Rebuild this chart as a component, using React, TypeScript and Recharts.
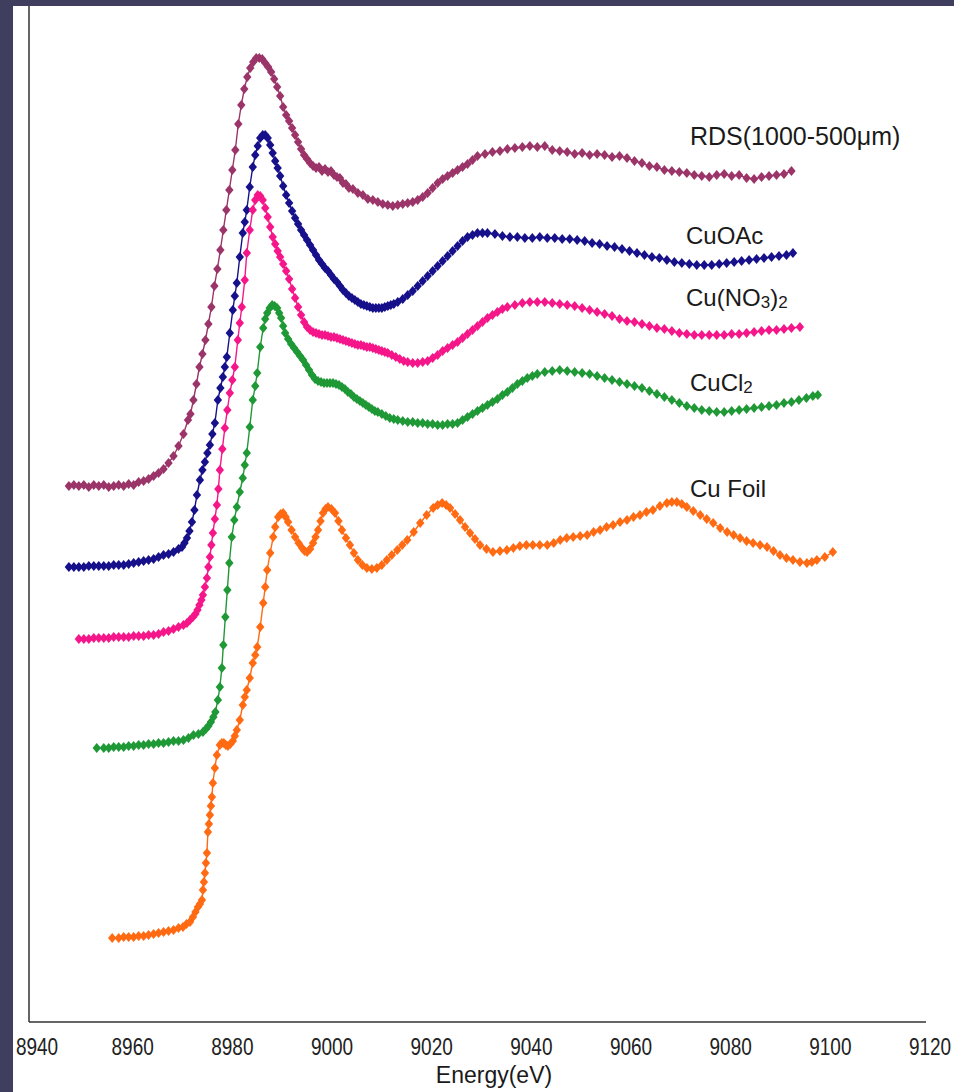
import React from 'react';
import { LineChart, Line, XAxis, YAxis } from 'recharts';

// energy (eV) vs normalised absorption, each spectrum offset vertically
const rdsData: [number, number][] = [
  [8948, 5.36], [8949, 5.37], [8950, 5.36], [8951, 5.37], [8952, 5.35], [8953, 5.37], [8954, 5.36], [8955, 5.37],
  [8956, 5.35], [8957, 5.36], [8958, 5.37], [8959, 5.36], [8960, 5.38], [8961, 5.37], [8962, 5.4], [8963, 5.41],
  [8964, 5.43], [8965, 5.46], [8966, 5.49], [8967, 5.53], [8968, 5.59], [8969, 5.66], [8970, 5.76], [8971, 5.88],
  [8971.9, 6.02], [8972.4, 6.08], [8973, 6.22], [8973.6, 6.38], [8974.2, 6.55], [8974.8, 6.68], [8975.4, 6.82],
  [8976, 6.98], [8976.6, 7.15], [8977.2, 7.36], [8977.8, 7.53], [8978.4, 7.72], [8979, 7.92], [8979.6, 8.12],
  [8980.2, 8.32], [8980.8, 8.52], [8981.4, 8.72], [8982, 8.98], [8982.6, 9.17], [8983.2, 9.33], [8983.8, 9.45],
  [8984.4, 9.54], [8985, 9.6], [8985.6, 9.64], [8986.2, 9.64], [8986.8, 9.63], [8987.4, 9.59], [8988, 9.55],
  [8988.6, 9.5], [8989.2, 9.43], [8989.8, 9.35], [8990.4, 9.26], [8991, 9.15], [8991.6, 9.07], [8992.2, 9.01],
  [8992.8, 8.94], [8993.4, 8.87], [8994, 8.8], [8994.6, 8.73], [8995.2, 8.67], [8995.8, 8.63], [8996.4, 8.59],
  [8997, 8.56], [8997.6, 8.54], [8998.2, 8.55], [8998.8, 8.51], [8999.4, 8.53], [9000, 8.5], [9000.6, 8.51],
  [9001.2, 8.47], [9001.8, 8.45], [9002.4, 8.44], [9003, 8.39], [9003.6, 8.38], [9004.2, 8.34], [9005, 8.33],
  [9006, 8.29], [9007, 8.27], [9008, 8.23], [9009, 8.22], [9010, 8.2], [9011, 8.18], [9012, 8.17], [9013, 8.16],
  [9014, 8.17], [9015, 8.18], [9016, 8.19], [9017, 8.2], [9018, 8.22], [9019, 8.25], [9020, 8.29], [9021, 8.34],
  [9022, 8.39], [9023, 8.43], [9024, 8.46], [9025, 8.49], [9026, 8.52], [9027, 8.55], [9028, 8.58], [9029, 8.62],
  [9030, 8.66], [9031.5, 8.68], [9033, 8.7], [9034.5, 8.71], [9036, 8.73], [9037.5, 8.74], [9039, 8.75],
  [9040.5, 8.76], [9042, 8.75], [9043.5, 8.76], [9045, 8.72], [9046.5, 8.71], [9048, 8.7], [9049.5, 8.68],
  [9051, 8.69], [9052.5, 8.67], [9054, 8.68], [9055.5, 8.67], [9057, 8.65], [9058.5, 8.66], [9060, 8.64],
  [9061.5, 8.61], [9063, 8.59], [9064.5, 8.56], [9066, 8.55], [9067.5, 8.52], [9069, 8.51], [9070.5, 8.5],
  [9072, 8.49], [9073.5, 8.47], [9075, 8.46], [9076.5, 8.45], [9078, 8.47], [9079.5, 8.48], [9081, 8.46],
  [9082.5, 8.47], [9084, 8.44], [9085.5, 8.43], [9087, 8.45], [9088.5, 8.46], [9090, 8.47], [9091.5, 8.48],
  [9093, 8.51],
];

const cuOAcData: [number, number][] = [
  [8948, 4.55], [8949, 4.55], [8950, 4.55], [8951, 4.55], [8952, 4.56], [8953, 4.56], [8954, 4.56], [8955, 4.56],
  [8956, 4.56], [8957, 4.57], [8958, 4.57], [8959, 4.57], [8960, 4.58], [8961, 4.59], [8962, 4.6], [8963, 4.61],
  [8964, 4.62], [8965, 4.63], [8966, 4.65], [8967, 4.67], [8968, 4.68], [8969, 4.7], [8970, 4.73], [8970.7, 4.75],
  [8971.2, 4.79], [8971.7, 4.84], [8972.2, 4.91], [8972.7, 5.0], [8973.2, 5.12], [8973.7, 5.27], [8974.3, 5.42],
  [8974.8, 5.52], [8975.3, 5.6], [8975.8, 5.69], [8976.3, 5.77], [8976.8, 5.88], [8977.3, 5.99], [8977.9, 6.22],
  [8978.4, 6.34], [8978.9, 6.45], [8979.3, 6.55], [8979.7, 6.65], [8980.3, 6.89], [8980.9, 7.12], [8981.3, 7.26],
  [8981.7, 7.39], [8982.3, 7.65], [8982.9, 7.89], [8983.3, 8.0], [8983.7, 8.12], [8984.3, 8.35], [8984.9, 8.55],
  [8985.4, 8.67], [8985.9, 8.76], [8986.4, 8.84], [8986.9, 8.87], [8987.4, 8.87], [8987.9, 8.84], [8988.4, 8.77],
  [8988.9, 8.69], [8989.4, 8.61], [8989.9, 8.54], [8990.4, 8.46], [8991, 8.36], [8991.6, 8.27], [8992.2, 8.19],
  [8992.8, 8.11], [8993.4, 8.04], [8994, 7.98], [8994.6, 7.92], [8995.2, 7.87], [8995.8, 7.82], [8996.4, 7.77],
  [8997, 7.72], [8997.6, 7.67], [8998.2, 7.62], [8998.8, 7.58], [8999.4, 7.54], [9000, 7.51], [9000.6, 7.47],
  [9001.2, 7.43], [9001.8, 7.4], [9002.4, 7.36], [9003, 7.32], [9003.6, 7.29], [9004.2, 7.26], [9004.8, 7.24],
  [9005.4, 7.22], [9006, 7.2], [9006.6, 7.18], [9007.2, 7.17], [9007.8, 7.16], [9008.4, 7.15], [9009, 7.14],
  [9009.6, 7.14], [9010.2, 7.14], [9010.8, 7.14], [9011.4, 7.15], [9012, 7.16], [9012.6, 7.17], [9013.2, 7.18],
  [9014, 7.2], [9015, 7.23], [9016, 7.27], [9017, 7.31], [9018, 7.36], [9019, 7.41], [9020, 7.46], [9021, 7.51],
  [9022, 7.56], [9023, 7.61], [9024, 7.66], [9025, 7.71], [9026, 7.76], [9027, 7.81], [9028, 7.85], [9029, 7.87],
  [9030, 7.89], [9031, 7.89], [9032, 7.89], [9033.5, 7.88], [9035, 7.86], [9036.5, 7.85], [9038, 7.85],
  [9039.5, 7.84], [9041, 7.84], [9042.5, 7.85], [9044, 7.84], [9045.5, 7.84], [9047, 7.83], [9048.5, 7.83],
  [9050, 7.82], [9051.5, 7.81], [9053, 7.79], [9054.5, 7.78], [9056, 7.76], [9057.5, 7.75], [9059, 7.73],
  [9060.5, 7.71], [9062, 7.69], [9063.5, 7.67], [9065, 7.65], [9066.5, 7.64], [9068, 7.62], [9069.5, 7.6],
  [9071, 7.59], [9072.5, 7.58], [9074, 7.57], [9075.5, 7.57], [9077, 7.57], [9078.5, 7.58], [9080, 7.59],
  [9081.5, 7.6], [9083, 7.61], [9084.5, 7.62], [9086, 7.63], [9087.5, 7.64], [9089, 7.65], [9090.5, 7.66],
  [9092, 7.67], [9093.3, 7.69],
];

const cuNO3Data: [number, number][] = [
  [8950, 3.83], [8951, 3.83], [8952, 3.83], [8953, 3.84], [8954, 3.84], [8955, 3.84], [8956, 3.84], [8957, 3.85],
  [8958, 3.85], [8959, 3.85], [8960, 3.85], [8961, 3.86], [8962, 3.86], [8963, 3.86], [8964, 3.87], [8965, 3.87],
  [8966, 3.88], [8967, 3.9], [8968, 3.91], [8969, 3.93], [8970, 3.95], [8971, 3.97], [8971.7, 3.99], [8972.3, 4.02],
  [8972.9, 4.05], [8973.4, 4.08], [8973.8, 4.12], [8974.2, 4.17], [8974.6, 4.22], [8974.9, 4.27], [8975.3, 4.35],
  [8975.7, 4.44], [8976, 4.55], [8976.3, 4.65], [8976.6, 4.77], [8976.9, 4.89], [8977.3, 5.03], [8977.7, 5.17],
  [8978, 5.33], [8978.3, 5.52], [8978.8, 5.73], [8979.3, 5.94], [8979.8, 6.12], [8980.3, 6.29], [8980.8, 6.42],
  [8981.3, 6.55], [8981.9, 6.82], [8982.3, 6.99], [8982.7, 7.15], [8983.3, 7.42], [8983.7, 7.69], [8984.3, 7.92],
  [8984.9, 8.12], [8985.4, 8.22], [8985.9, 8.27], [8986.4, 8.26], [8986.9, 8.22], [8987.4, 8.14], [8987.9, 8.05],
  [8988.4, 7.95], [8988.9, 7.85], [8989.4, 7.78], [8989.9, 7.71], [8990.4, 7.65], [8991, 7.58], [8991.6, 7.51],
  [8992.2, 7.43], [8992.8, 7.33], [8993.4, 7.24], [8994, 7.15], [8994.6, 7.07], [8995.2, 7.0], [8995.8, 6.95],
  [8996.4, 6.92], [8997, 6.9], [8997.6, 6.89], [8998.2, 6.88], [8998.8, 6.87], [8999.4, 6.87], [9000, 6.86],
  [9000.6, 6.85], [9001.2, 6.85], [9001.8, 6.84], [9002.4, 6.83], [9003, 6.82], [9003.6, 6.81], [9004.2, 6.8],
  [9004.8, 6.79], [9005.4, 6.78], [9006, 6.77], [9006.6, 6.77], [9007.2, 6.76], [9007.8, 6.75], [9008.4, 6.75],
  [9009, 6.74], [9009.6, 6.73], [9010.2, 6.72], [9010.8, 6.71], [9011.4, 6.7], [9012, 6.69], [9012.8, 6.67],
  [9013.6, 6.65], [9014.4, 6.63], [9015.2, 6.61], [9016, 6.6], [9017, 6.59], [9018, 6.59], [9019, 6.6],
  [9020, 6.61], [9021, 6.64], [9022, 6.67], [9023, 6.71], [9024, 6.74], [9025, 6.77], [9026, 6.8], [9027, 6.84],
  [9028, 6.88], [9029, 6.92], [9030, 6.96], [9031, 7.0], [9032, 7.04], [9033, 7.07], [9034, 7.1], [9035, 7.13],
  [9036, 7.15], [9037.5, 7.17], [9039, 7.19], [9040.5, 7.2], [9042, 7.2], [9043.5, 7.2], [9045, 7.19],
  [9046.5, 7.18], [9048, 7.17], [9049.5, 7.16], [9051, 7.14], [9052.5, 7.12], [9054, 7.1], [9055.5, 7.08],
  [9057, 7.06], [9058.5, 7.03], [9060, 7.01], [9061.5, 7.0], [9063, 6.98], [9064.5, 6.96], [9066, 6.94],
  [9067.5, 6.93], [9069, 6.91], [9070.5, 6.89], [9072, 6.88], [9073.5, 6.87], [9075, 6.87], [9076.5, 6.87],
  [9078, 6.87], [9079.5, 6.87], [9081, 6.88], [9082.5, 6.88], [9084, 6.89], [9085.5, 6.9], [9087, 6.91],
  [9088.5, 6.92], [9090, 6.92], [9091.5, 6.93], [9093, 6.94], [9094.7, 6.95],
];

const cuCl2Data: [number, number][] = [
  [8953.6, 2.74], [8955, 2.74], [8956, 2.74], [8957, 2.75], [8958, 2.75], [8959, 2.75], [8960, 2.76], [8961, 2.76],
  [8962, 2.77], [8963, 2.77], [8964, 2.78], [8965, 2.78], [8966, 2.79], [8967, 2.79], [8968, 2.8], [8969, 2.81],
  [8970, 2.81], [8971, 2.82], [8972, 2.84], [8973, 2.87], [8974, 2.88], [8974.9, 2.9], [8975.5, 2.93], [8976, 2.96],
  [8976.5, 3.0], [8977, 3.05], [8977.4, 3.1], [8977.9, 3.22], [8978.3, 3.35], [8978.7, 3.54], [8979, 3.77],
  [8979.4, 4.05], [8979.8, 4.32], [8980.2, 4.59], [8980.7, 4.85], [8981.2, 5.02], [8981.7, 5.15], [8982.3, 5.3],
  [8982.9, 5.44], [8983.3, 5.57], [8983.7, 5.69], [8984.3, 5.95], [8984.9, 6.22], [8985.4, 6.36], [8985.8, 6.49],
  [8986.4, 6.75], [8987, 6.94], [8987.4, 7.03], [8987.8, 7.09], [8988.3, 7.14], [8988.8, 7.17], [8989.3, 7.16],
  [8989.8, 7.14], [8990.2, 7.09], [8990.6, 7.04], [8991, 6.96], [8991.4, 6.89], [8992, 6.83], [8992.6, 6.78],
  [8993.2, 6.74], [8993.8, 6.7], [8994.4, 6.66], [8995, 6.62], [8995.6, 6.57], [8996.2, 6.52], [8996.8, 6.47],
  [8997.4, 6.43], [8998, 6.41], [8998.6, 6.4], [8999.2, 6.39], [8999.8, 6.39], [9000.4, 6.39], [9001, 6.39],
  [9001.6, 6.38], [9002.2, 6.37], [9002.8, 6.35], [9003.4, 6.33], [9004, 6.3], [9004.6, 6.28], [9005.2, 6.25],
  [9005.8, 6.23], [9006.4, 6.21], [9007, 6.19], [9007.6, 6.17], [9008.2, 6.15], [9008.8, 6.13], [9009.4, 6.11],
  [9010, 6.1], [9010.8, 6.08], [9011.6, 6.06], [9012.4, 6.04], [9013.2, 6.03], [9014, 6.02], [9015, 6.01],
  [9016, 6.0], [9017, 6.0], [9018, 5.99], [9019, 5.99], [9020, 5.98], [9021, 5.98], [9022, 5.97], [9023, 5.97],
  [9024, 5.98], [9025, 5.98], [9026, 5.99], [9027, 6.02], [9028, 6.05], [9029, 6.08], [9030, 6.11], [9031, 6.14],
  [9032, 6.17], [9033, 6.2], [9034, 6.23], [9035, 6.27], [9036, 6.3], [9037, 6.34], [9038, 6.38], [9039, 6.41],
  [9040, 6.44], [9041, 6.46], [9042, 6.48], [9043.5, 6.5], [9045, 6.51], [9046.5, 6.52], [9048, 6.51],
  [9049.5, 6.5], [9051, 6.49], [9052.5, 6.48], [9054, 6.46], [9055.5, 6.44], [9057, 6.42], [9058.5, 6.4],
  [9060, 6.38], [9061.5, 6.36], [9063, 6.34], [9064.5, 6.31], [9066, 6.28], [9067.5, 6.25], [9069, 6.22],
  [9070.5, 6.19], [9072, 6.16], [9073.5, 6.14], [9075, 6.12], [9076.5, 6.11], [9078, 6.1], [9079.5, 6.1],
  [9081, 6.11], [9082.5, 6.12], [9084, 6.13], [9085.5, 6.14], [9087, 6.15], [9088.5, 6.16], [9090, 6.17],
  [9091.5, 6.19], [9093, 6.2], [9094.5, 6.22], [9096, 6.24], [9097.3, 6.26], [9098.3, 6.27],
];

const cuFoilData: [number, number][] = [
  [8956.7, 0.84], [8958, 0.84], [8959, 0.85], [8960, 0.85], [8961, 0.85], [8962, 0.86], [8963, 0.86], [8964, 0.87],
  [8965, 0.88], [8966, 0.89], [8967, 0.9], [8968, 0.91], [8969, 0.92], [8970, 0.94], [8970.9, 0.95], [8971.6, 0.98],
  [8972.3, 1.0], [8972.9, 1.05], [8973.4, 1.1], [8973.9, 1.15], [8974.3, 1.18], [8974.7, 1.22], [8974.9, 1.32],
  [8975.1, 1.4], [8975.3, 1.49], [8975.5, 1.59], [8975.7, 1.69], [8975.9, 1.9], [8976.1, 1.98], [8976.3, 2.07],
  [8976.5, 2.16], [8976.7, 2.25], [8976.9, 2.39], [8977.3, 2.54], [8977.7, 2.67], [8978.3, 2.77], [8978.7, 2.79],
  [8979.1, 2.79], [8979.5, 2.77], [8979.9, 2.76], [8980.4, 2.78], [8980.9, 2.81], [8981.3, 2.86], [8981.7, 2.92],
  [8982.3, 3.02], [8982.9, 3.17], [8983.3, 3.25], [8983.7, 3.32], [8984.3, 3.44], [8984.9, 3.59], [8985.4, 3.67],
  [8985.8, 3.75], [8986.4, 3.95], [8987, 4.19], [8987.4, 4.35], [8987.8, 4.52], [8988.4, 4.69], [8989, 4.85],
  [8989.4, 4.95], [8990, 5.05], [8990.5, 5.08], [8991, 5.09], [8991.5, 5.05], [8992, 5.0], [8992.7, 4.92],
  [8993.4, 4.85], [8994.1, 4.79], [8994.8, 4.74], [8995.3, 4.71], [8995.8, 4.7], [8996.4, 4.73], [8997, 4.79],
  [8997.5, 4.85], [8998, 4.92], [8998.5, 5.01], [8999, 5.09], [8999.5, 5.13], [9000, 5.15], [9000.7, 5.13],
  [9001.4, 5.09], [9002.1, 5.01], [9002.8, 4.92], [9003.6, 4.84], [9004.4, 4.77], [9005.2, 4.69], [9006, 4.62],
  [9006.9, 4.57], [9007.8, 4.54], [9008.8, 4.53], [9009.8, 4.54], [9010.8, 4.57], [9011.8, 4.62], [9012.8, 4.67],
  [9013.9, 4.72], [9014.9, 4.77], [9015.9, 4.82], [9017.2, 4.9], [9018.5, 4.99], [9019.8, 5.07], [9021.1, 5.14],
  [9022, 5.17], [9022.9, 5.19], [9023.7, 5.17], [9024.5, 5.14], [9025.5, 5.08], [9026.5, 5.02], [9027.5, 4.95],
  [9028.5, 4.89], [9029.5, 4.83], [9030.5, 4.77], [9031.8, 4.73], [9033.1, 4.7], [9034.5, 4.71], [9035.9, 4.72],
  [9037.2, 4.74], [9038.5, 4.76], [9039.8, 4.77], [9041.1, 4.77], [9042.5, 4.77], [9044, 4.77], [9045.3, 4.79],
  [9046.6, 4.82], [9047.9, 4.84], [9049.2, 4.85], [9050.6, 4.86], [9052, 4.87], [9053.3, 4.9], [9054.6, 4.92],
  [9055.9, 4.95], [9057.2, 4.97], [9058.6, 5.0], [9060, 5.02], [9061.3, 5.05], [9062.6, 5.07], [9063.9, 5.1],
  [9065.2, 5.12], [9066.6, 5.16], [9068, 5.19], [9069, 5.2], [9070, 5.2], [9071, 5.18], [9072, 5.15],
  [9073.3, 5.11], [9074.7, 5.07], [9076, 5.03], [9077.3, 4.99], [9078.7, 4.94], [9080.1, 4.9], [9081.4, 4.87],
  [9082.7, 4.84], [9084, 4.81], [9085.3, 4.79], [9086.7, 4.77], [9088.1, 4.75], [9089.4, 4.71], [9090.7, 4.67],
  [9092, 4.64], [9093.3, 4.62], [9094.7, 4.6], [9096.1, 4.59], [9097.1, 4.6], [9098.1, 4.62], [9099.7, 4.65],
  [9101.3, 4.7],
];

const energyTicks = [8940, 8960, 8980, 9000, 9020, 9040, 9060, 9080, 9100, 9120];

const series = [
  { name: 'RDS(1000-500μm)', data: rdsData, color: '#9b3468' },
  { name: 'CuOAc', data: cuOAcData, color: '#16108a' },
  { name: 'Cu(NO3)2', data: cuNO3Data, color: '#f5168a' },
  { name: 'CuCl2', data: cuCl2Data, color: '#1f9836' },
  { name: 'Cu Foil', data: cuFoilData, color: '#ff6a12' },
];

const FONT = '"Liberation Sans", Arial, sans-serif';

function diamond(color: string) {
  return (props: any) => {
    const { cx, cy, index } = props;
    if (cx == null || cy == null) return <g key={index} />;
    return (
      <path
        key={index}
        d={`M${cx},${cy - 5}L${cx + 4.2},${cy}L${cx},${cy + 5}L${cx - 4.2},${cy}Z`}
        fill={color}
        stroke="none"
      />
    );
  };
}

function EnergyTick(props: any) {
  const { x, y, payload, index } = props;
  // the first label sits a little inside the frame, as in the original
  const shift = index === 0 ? 8 : 4;
  return (
    <text
      transform={`translate(${x + shift},${y + 31}) scale(1,1.3)`}
      textAnchor="middle"
      fill="#222"
      fontSize={19}
      fontFamily={FONT}
    >
      {payload.value}
    </text>
  );
}

const labelStyle: React.CSSProperties = {
  position: 'absolute',
  fontFamily: FONT,
  fontSize: 24,
  lineHeight: 1,
  color: '#1a1a1a',
  whiteSpace: 'nowrap',
};

const sub: React.CSSProperties = { fontSize: 17, verticalAlign: -2 };

export default function App() {
  return (
    <div style={{ position: 'relative', width: 954, height: 1092, background: '#403e5f', overflow: 'hidden' }}>
      <style>{'body{margin:0}'}</style>
      <div style={{ position: 'absolute', left: 13, top: 6, width: 941, height: 1086, background: '#fff' }}>
        <LineChart width={941} height={1086} margin={{ top: 0, right: 28, bottom: 0, left: 15 }}>
          <XAxis
            type="number"
            dataKey={(d: [number, number]) => d[0]}
            domain={[8940, 9120]}
            ticks={energyTicks}
            allowDataOverflow
            height={70}
            tickSize={0}
            tickLine={false}
            axisLine={{ stroke: '#333', strokeWidth: 1.5 }}
            tick={<EnergyTick />}
            interval={0}
          />
          <YAxis
            type="number"
            domain={[0, 10.16]}
            allowDataOverflow
            width={1}
            tick={false}
            tickLine={false}
            axisLine={{ stroke: '#333', strokeWidth: 1.5 }}
          />
          {series.map((s) => (
            <Line
              key={s.name}
              data={s.data}
              dataKey={(d: [number, number]) => d[1]}
              type="linear"
              stroke={s.color}
              strokeWidth={1.4}
              dot={diamond(s.color)}
              activeDot={false}
              isAnimationActive={false}
            />
          ))}
        </LineChart>
        <div style={{ ...labelStyle, fontSize: 25, left: 677, top: 118 }}>RDS(1000-500μm)</div>
        <div style={{ ...labelStyle, left: 673, top: 218 }}>CuOAc</div>
        <div style={{ ...labelStyle, left: 673, top: 280 }}>
          Cu(NO<span style={sub}>3</span>)<span style={sub}>2</span>
        </div>
        <div style={{ ...labelStyle, left: 677, top: 365 }}>
          CuCl<span style={sub}>2</span>
        </div>
        <div style={{ ...labelStyle, left: 677, top: 471 }}>Cu Foil</div>
        <div style={{ ...labelStyle, fontSize: 23, left: 0, width: 954, textAlign: 'center', top: 1058 }}>
          <span style={{ position: 'relative', left: 4 }}>Energy(eV)</span>
        </div>
      </div>
    </div>
  );
}
